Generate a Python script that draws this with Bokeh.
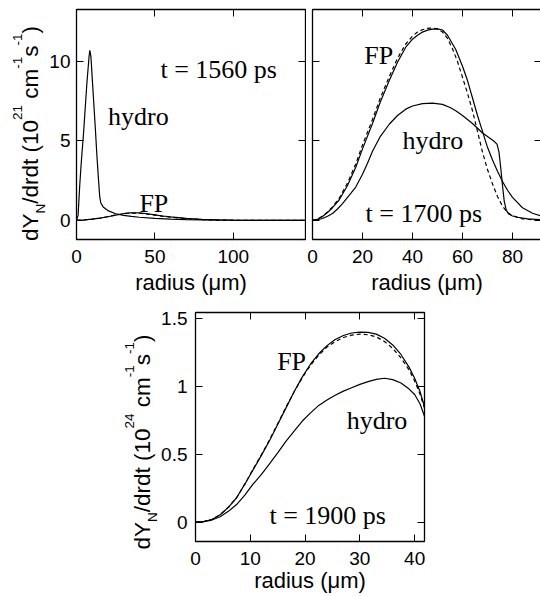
import math
from bokeh.plotting import figure
from bokeh.models import Range1d, LinearAxis, FixedTicker, Label, CustomLabelingPolicy
from bokeh.layouts import column, row
from bokeh.embed import file_html
from bokeh.resources import INLINE

# ---------------- data ----------------
# panel 1 : t = 1560 ps
r1_hydro = [0, 1, 2, 3, 4.5, 6.6, 8, 8.5, 9.2, 10, 11, 12, 13, 14, 14.8, 15.5, 17, 20, 25, 30, 35, 40, 50, 60, 70, 80, 100, 120, 146]
y1_hydro = [0, 0.3, 2.1, 3.6, 5.5, 8.6, 10.3, 10.7, 10.3, 9.0, 7.4, 5.8, 4.1, 2.6, 1.5, 1.1, 0.85, 0.62, 0.42, 0.32, 0.25, 0.2, 0.13, 0.08, 0.05, 0.03, 0.01, 0.0, 0.0]
r1_fp = [0, 5, 10, 15, 20, 25, 28, 31, 34, 37, 40, 45, 50, 55, 60, 70, 80, 90, 100, 120, 146]
y1_fp = [0, 0.03, 0.08, 0.15, 0.23, 0.33, 0.39, 0.44, 0.47, 0.48, 0.47, 0.42, 0.35, 0.28, 0.22, 0.13, 0.07, 0.03, 0.015, 0.0, 0.0]
y1_fp_dash = [0, 0.03, 0.08, 0.15, 0.24, 0.34, 0.39, 0.43, 0.455, 0.46, 0.45, 0.40, 0.33, 0.26, 0.20, 0.11, 0.05, 0.02, 0.01, 0.0, 0.0]

# panel 2 : t = 1700 ps
r2_fp = [0, 2, 4, 6, 8, 10.7, 14, 17.3, 20, 24, 27, 30.7, 34, 37.3, 40, 42, 44, 46, 48, 50, 52, 54, 57.3, 60, 62, 64, 66, 68, 70, 72, 74, 76, 78, 80, 84, 88, 92]
y2_fp = [0, 0.07, 0.25, 0.5, 0.8, 1.3, 2.2, 3.35, 4.5, 6.1, 7.4, 8.8, 9.95, 10.9, 11.4, 11.65, 11.85, 11.97, 12.03, 12.05, 11.98, 11.65, 10.75, 9.7, 8.8, 7.7, 6.6, 5.6, 4.6, 3.8, 3.1, 2.45, 1.9, 1.45, 0.8, 0.45, 0.25]
r2_fp_dash = [0, 2, 4, 6, 8, 10.7, 14, 17.3, 20, 24, 27, 30.7, 34, 37.3, 40, 42, 44, 46, 48, 50, 52, 54, 56, 58, 60, 62, 64, 66, 68, 70, 72, 74, 76, 78, 80, 84, 92]
y2_fp_dash = [0, 0.08, 0.27, 0.53, 0.85, 1.4, 2.35, 3.55, 4.75, 6.35, 7.65, 9.05, 10.2, 11.1, 11.6, 11.85, 12.0, 12.08, 12.1, 12.05, 11.85, 11.45, 10.8, 10.0, 9.0, 8.0, 6.9, 5.6, 4.3, 3.2, 2.3, 1.5, 0.9, 0.5, 0.3, 0.1, 0.0]
r2_hydro = [0, 2, 4, 6, 8, 10, 12, 14.5, 17.3, 20, 22, 24, 27, 30.7, 34, 37.3, 40, 44, 48, 52, 55, 57.3, 60, 64, 68, 70.7, 72.5, 73.8, 74.6, 75.3, 76, 76.7, 77.5, 78.5, 80, 82, 86, 92]
y2_hydro = [0, 0.04, 0.12, 0.26, 0.44, 0.72, 1.06, 1.55, 2.1, 2.9, 3.6, 4.35, 5.25, 6.05, 6.6, 7.0, 7.2, 7.35, 7.38, 7.3, 7.1, 6.9, 6.6, 6.1, 5.5, 5.2, 5.0, 4.8, 4.3, 3.3, 2.2, 1.2, 0.65, 0.4, 0.28, 0.2, 0.1, 0.04]

# panel 3 : t = 1900 ps
r3 = [0, 1.5, 3, 4.5, 6, 7.5, 9, 10.5, 12, 13.5, 15, 16.5, 18, 19.5, 21, 22.5, 24, 25.5, 27, 28.5, 30, 31.5, 33, 34.5, 36, 37.5, 39, 40, 41, 41.8]
y3_fp = [0, 0.005, 0.02, 0.055, 0.11, 0.18, 0.28, 0.385, 0.49, 0.6, 0.72, 0.84, 0.96, 1.07, 1.165, 1.24, 1.30, 1.345, 1.375, 1.393, 1.40, 1.398, 1.385, 1.355, 1.305, 1.235, 1.14, 1.06, 0.96, 0.85]
y3_fp_dash = [0, 0.005, 0.02, 0.055, 0.11, 0.18, 0.28, 0.39, 0.495, 0.605, 0.725, 0.845, 0.96, 1.065, 1.155, 1.23, 1.29, 1.33, 1.36, 1.377, 1.385, 1.38, 1.365, 1.33, 1.28, 1.21, 1.12, 1.04, 0.94, 0.84]
y3_hydro = [0, 0.004, 0.016, 0.04, 0.08, 0.13, 0.2, 0.28, 0.35, 0.43, 0.51, 0.595, 0.67, 0.745, 0.805, 0.86, 0.9, 0.935, 0.965, 0.99, 1.015, 1.035, 1.052, 1.06, 1.05, 1.025, 0.98, 0.94, 0.87, 0.78]

# ticks and texts
x1_ticks = [0, 50, 100]
x2_ticks = [0, 20, 40, 60, 80]
x3_ticks = [0, 10, 20, 30, 40]
y12_ticks = [0, 5, 10]
y3_ticks = [0, 0.5, 1, 1.5]
y3_tick_labels = ["0", "0.5", "1", "1.5"]
time_labels = ["t = 1560 ps", "t = 1700 ps", "t = 1900 ps"]
curve_names = ["hydro", "FP"]
x_title = "radius (\u03bcm)"
# (text, kind) kind: 0 normal, 1 superscript, -1 subscript
y_title_top = [("dY", 0), ("N", -1), ("/drdt (10", 0), ("21", 1), (" cm", 0), ("-1", 1), ("s", 0), ("-1", 1), (")", 0)]
y_title_bottom = [("dY", 0), ("N", -1), ("/drdt (10", 0), ("24", 1), (" cm", 0), ("-1", 1), ("s", 0), ("-1", 1), (")", 0)]

# ---------------- styling helpers ----------------
SANS = "Liberation Sans"
SERIF = "Liberation Serif"
TICK_FS = "19px"
TITLE_FS = 22.5
SMALL_FS = 13.5
LW = 1.2
DASH = "4 3"

W = {'d': 556, 'Y': 667, 'N': 722, '/': 278, 'r': 333, 't': 278, ' ': 278, '(': 333, ')': 333,
     'c': 500, 'm': 833, 's': 500, '-': 333}
for ch in "0123456789":
    W[ch] = 556


def tw(s, size):
    return sum(W.get(c, 556) for c in s) * size / 1000.0


HIDE = "for (const i of Array.from(indices)) { indices.unset(i) }\nreturn indices"


def style_axis(ax, ticks, show_labels, standoff):
    ax.ticker = FixedTicker(ticks=ticks)
    ax.axis_line_color = None
    ax.major_tick_in = 7
    ax.major_tick_out = 0
    ax.major_tick_line_color = "black"
    ax.major_tick_line_width = 1
    ax.minor_tick_line_color = None
    ax.major_label_text_font = SANS
    ax.major_label_text_color = "black"
    if show_labels:
        ax.major_label_text_font_size = TICK_FS
        ax.major_label_standoff = standoff
    else:
        ax.major_label_text_font_size = "0px"
        ax.major_label_standoff = 0
        ax.major_label_policy = CustomLabelingPolicy(code=HIDE)


def make_fig(xr, yr, xticks, yticks, fw, fh, bl, br, bt, bb, ylabels=True, ylabel_over=None,
             xl_standoff=4, y_standoff=9):
    p = figure(output_backend="svg", toolbar_location=None, title=None,
               frame_width=fw, frame_height=fh,
               x_range=Range1d(*xr), y_range=Range1d(*yr),
               min_border_left=bl, min_border_right=br, min_border_top=bt, min_border_bottom=bb)
    p.grid.visible = False
    p.outline_line_color = "black"
    p.outline_line_width = 1.3
    p.background_fill_color = "white"
    p.border_fill_color = "white"
    style_axis(p.xaxis[0], xticks, True, 10)
    style_axis(p.yaxis[0], yticks, ylabels, y_standoff)
    if ylabel_over:
        p.yaxis[0].major_label_overrides = ylabel_over
    p.xaxis[0].axis_label = x_title
    p.xaxis[0].axis_label_text_font = SANS
    p.xaxis[0].axis_label_text_font_size = "22px"
    p.xaxis[0].axis_label_text_font_style = "normal"
    p.xaxis[0].axis_label_text_color = "black"
    p.xaxis[0].axis_label_standoff = xl_standoff
    top = LinearAxis()
    style_axis(top, xticks, False, 0)
    p.add_layout(top, "above")
    right = LinearAxis()
    style_axis(right, yticks, False, 0)
    p.add_layout(right, "right")
    return p


def title_strip(width, height, pieces, x_base, y_center, sup_shift=13, sub_shift=10):
    # a blank strip (frame only, no axes); positions are pixels from its lower-left corner
    s = figure(output_backend="svg", toolbar_location=None, title=None,
               frame_width=width, frame_height=height,
               x_range=Range1d(0, 1), y_range=Range1d(0, 1),
               min_border_left=0, min_border_right=0, min_border_top=0, min_border_bottom=0,
               x_axis_type=None, y_axis_type=None)
    s.grid.visible = False
    s.outline_line_color = None
    s.background_fill_color = "white"
    s.border_fill_color = "white"
    total = 0
    for t, k in pieces:
        total += tw(t, TITLE_FS if k == 0 else SMALL_FS)
    y = y_center - total / 2.0
    for t, k in pieces:
        size = TITLE_FS if k == 0 else SMALL_FS
        if t.startswith(" "):
            y += tw(" ", size)
            t = t[1:]
        dx = 0 if k == 0 else (-sup_shift if k == 1 else sub_shift)
        s.add_layout(Label(x=(x_base + dx) / width, y=y / height, text=t, angle=math.pi / 2,
                           text_font=SANS, text_font_size=f"{size}px", text_color="black",
                           text_align="left", text_baseline="alphabetic"))
        y += tw(t, size)
    return s


def add_text(p, x, y, t):
    p.add_layout(Label(x=x, y=y, text=t, text_font=SERIF, text_font_size="26px",
                       text_color="black", text_align="left", text_baseline="alphabetic"))


# ---- top row: strip (46) + panel 1 + panel 2  -> 540 px
H_TOP = 9 + 230 + 56
s1 = title_strip(46, H_TOP, y_title_top, 29.5, H_TOP - (9 + 115))

X1 = (0, 146)
Y12 = (-1.2, 13.27)
p1 = make_fig(X1, Y12, x1_ticks, y12_ticks, 229, 230, 28, 1, 9, 56, y_standoff=6)
p1.line(r1_fp, y1_fp_dash, line_color="black", line_width=LW, line_dash=DASH)
p1.line(r1_fp, y1_fp, line_color="black", line_width=LW)
p1.line(r1_hydro, y1_hydro, line_color="black", line_width=LW)
add_text(p1, 53.5, 9.5, time_labels[0])
add_text(p1, 20.1, 6.54, curve_names[0])
add_text(p1, 40.1, 1.04, curve_names[1])

X2 = (0, 91.6)
p2 = make_fig(X2, Y12, x2_ticks, y12_ticks, 229, 230, 6, 1, 9, 56, ylabels=False)
p2.line(r2_fp_dash, y2_fp_dash, line_color="black", line_width=LW, line_dash=DASH)
p2.line(r2_fp, y2_fp, line_color="black", line_width=LW)
p2.line(r2_hydro, y2_hydro, line_color="black", line_width=LW)
add_text(p2, 20.7, 10.38, curve_names[1])
add_text(p2, 36.0, 5.03, curve_names[0])
add_text(p2, 21.2, 0.44, time_labels[1])

# ---- bottom row: strip (158) + panel 3
H_BOT = 15 + 229 + 56
s3 = title_strip(158, H_BOT, y_title_bottom, 141.5, H_BOT - (15 + 114.5))

X3 = (0, 41.8)
Y3 = (-0.142, 1.544)
over3 = {t: s for t, s in zip(y3_ticks, y3_tick_labels)}
p3 = make_fig(X3, Y3, x3_ticks, y3_ticks, 229, 229, 35, 118, 15, 56,
              ylabel_over=over3, xl_standoff=0, y_standoff=8)
p3.line(r3, y3_fp_dash, line_color="black", line_width=LW, line_dash=DASH)
p3.line(r3, y3_fp, line_color="black", line_width=LW)
p3.line(r3, y3_hydro, line_color="black", line_width=LW)
add_text(p3, 14.9, 1.18, curve_names[1])
add_text(p3, 27.6, 0.75, curve_names[0])
add_text(p3, 13.5, 0.05, time_labels[2])

layout = column(row(s1, p1, p2), row(s3, p3))
open("out.html", "w").write(file_html(layout, INLINE))
